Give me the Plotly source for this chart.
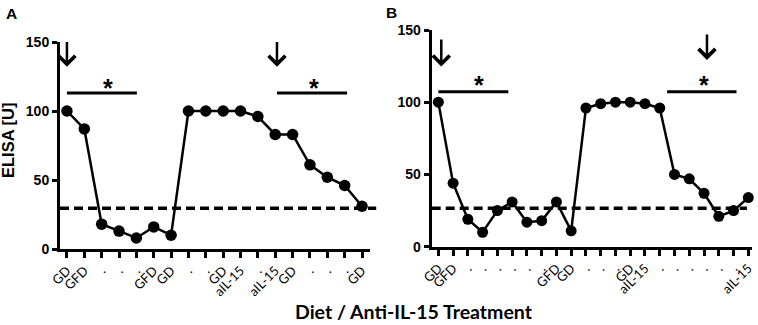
import plotly.graph_objects as go

# ---------------- data ----------------
labels_a = ["GD", "GFD", ".", ".", ".", "GFD", "GD", ".", ".", "GD", "aIL-15", ".",
            "aIL-15", "GD", ".", ".", ".", "GD"]
values_a = [100, 87, 18, 13, 8, 16, 10, 100, 100, 100, 100, 96, 83, 83, 61, 52, 46, 31]
threshold_a = 29.5

labels_b = ["GD", "GFD", ".", ".", ".", ".", ".", ".", "GFD", "GD", ".", ".", ".",
            "GD", "aIL-15", ".", ".", ".", ".", ".", ".", "aIL-15"]
values_b = [100, 44, 19, 10, 25, 31, 17, 18, 31, 11, 96, 99, 100, 100, 99, 96,
            50, 47, 37, 21, 25, 34]
threshold_b = 26.6

# significance bars (x start, x end, y) and arrows (x, y top, y tip)
sig_a = [(1.0, 5.03, 113), (13.1, 17.14, 113)]
star_a = [(3.35, 120), (15.25, 120)]
arrows_a = [(1.0, 151, 132), (13.1, 151, 132)]
sig_b = [(1.0, 5.74, 107.3), (16.5, 21.2, 107.3)]
star_b = [(3.76, 115.5), (19.0, 115.5)]
arrows_b = [(1.2, 144.5, 124.7), (19.2, 148, 129.3)]

W, H = 758, 325
xa_px = (60, 370)
xb_px = (431.7, 751.7)
ya_px = (249, 42)
yb_px = (246.7, 30)

xa = list(range(1, len(values_a) + 1))
xb = list(range(1, len(values_b) + 1))

fig = go.Figure()
fig.add_trace(go.Scatter(x=xa, y=values_a, mode="lines+markers",
                         line=dict(color="black", width=2.5),
                         marker=dict(color="black", size=11.5),
                         xaxis="x", yaxis="y", showlegend=False, cliponaxis=False))
fig.add_trace(go.Scatter(x=xb, y=values_b, mode="lines+markers",
                         line=dict(color="black", width=2.5),
                         marker=dict(color="black", size=11),
                         xaxis="x2", yaxis="y2", showlegend=False, cliponaxis=False))

tickfont_x = dict(family="Lato", size=13, color="black")
tickfont_y = dict(family="Liberation Sans", size=14, color="black", weight="bold")

def xaxis_cfg(dom, rng, vals, txt):
    return dict(domain=[dom[0] / W, dom[1] / W], range=rng, showgrid=False, zeroline=False,
                showline=True, linecolor="black", linewidth=3, ticks="outside",
                ticklen=6, tickwidth=3, tickcolor="black", tickvals=vals, ticktext=txt,
                tickangle=-45, tickfont=tickfont_x, fixedrange=True, automargin=False)

def yaxis_cfg(dom, anchor):
    return dict(domain=[1 - dom[0] / H, 1 - dom[1] / H], range=[0, 150], showgrid=False,
                zeroline=False, showline=True, linecolor="black", linewidth=3,
                ticks="outside", ticklen=5, tickwidth=3, tickcolor="black",
                tickvals=[0, 50, 100, 150], tickfont=tickfont_y, anchor=anchor,
                fixedrange=True, automargin=False)

fig.update_layout(
    width=W, height=H, margin=dict(l=0, r=0, t=0, b=0, autoexpand=False),
    paper_bgcolor="white", plot_bgcolor="white",
    xaxis=xaxis_cfg(xa_px, [0.6, 18.46], xa, labels_a) | dict(anchor="y"),
    yaxis=yaxis_cfg(ya_px, "x"),
    xaxis2=xaxis_cfg(xb_px, [0.55, 22.23], xb, labels_b) | dict(anchor="y2"),
    yaxis2=yaxis_cfg(yb_px, "x2"),
)

shapes = []
annotations = []
for (xr, yr, thr, ext, sigs, stars, arrows) in [
        ("x", "y", threshold_a, 1.02, sig_a, star_a, arrows_a),
        ("x2", "y2", threshold_b, 0.985, sig_b, star_b, arrows_b)]:
    shapes.append(dict(type="line", xref=f"{xr} domain", yref=yr, x0=0, x1=ext,
                       y0=thr, y1=thr, line=dict(color="black", width=3.5, dash="9px,5px")))
    for x0, x1, yv in sigs:
        shapes.append(dict(type="line", xref=xr, yref=yr, x0=x0, x1=x1, y0=yv, y1=yv,
                           line=dict(color="black", width=3)))
    for xs, ys in stars:
        annotations.append(dict(x=xs, y=ys, xref=xr, yref=yr, text="*", showarrow=False,
                                font=dict(family="Liberation Sans", size=25, color="black",
                                          weight="bold"),
                                yanchor="middle", yshift=-5))
    for xv, ytop, ytip in arrows:
        annotations.append(dict(x=xv, y=ytip, ax=xv, ay=ytop, xref=xr, yref=yr,
                                axref=xr, ayref=yr, text="", showarrow=True,
                                arrowhead=4, arrowsize=1.3, arrowwidth=2.5,
                                arrowcolor="black", standoff=0))

annotations += [
    dict(x=11 / W, y=1 - 13.3 / H, xref="paper", yref="paper", text="A", showarrow=False,
         font=dict(family="Liberation Sans", size=15.5, color="black", weight="bold"),
         xanchor="center", yanchor="middle"),
    dict(x=391 / W, y=1 - 12 / H, xref="paper", yref="paper", text="B", showarrow=False,
         font=dict(family="Liberation Sans", size=15.5, color="black", weight="bold"),
         xanchor="center", yanchor="middle"),
    dict(x=8 / W, y=1 - 141 / H, xref="paper", yref="paper", text="ELISA [U]",
         showarrow=False, textangle=-90,
         font=dict(family="Liberation Sans", size=16.5, color="black", weight="bold"),
         xanchor="center", yanchor="middle"),
    dict(x=414 / W, y=1 - 311 / H, xref="paper", yref="paper",
         text="Diet / Anti-IL-15 Treatment", showarrow=False,
         font=dict(family="Lato", size=19.5, color="black", weight="bold"),
         xanchor="center", yanchor="middle"),
]
fig.update_layout(shapes=shapes, annotations=annotations)

fig.write_html("out.html", config={"displayModeBar": False},
               post_script="document.body.style.margin='0';document.body.style.overflow='hidden';")
